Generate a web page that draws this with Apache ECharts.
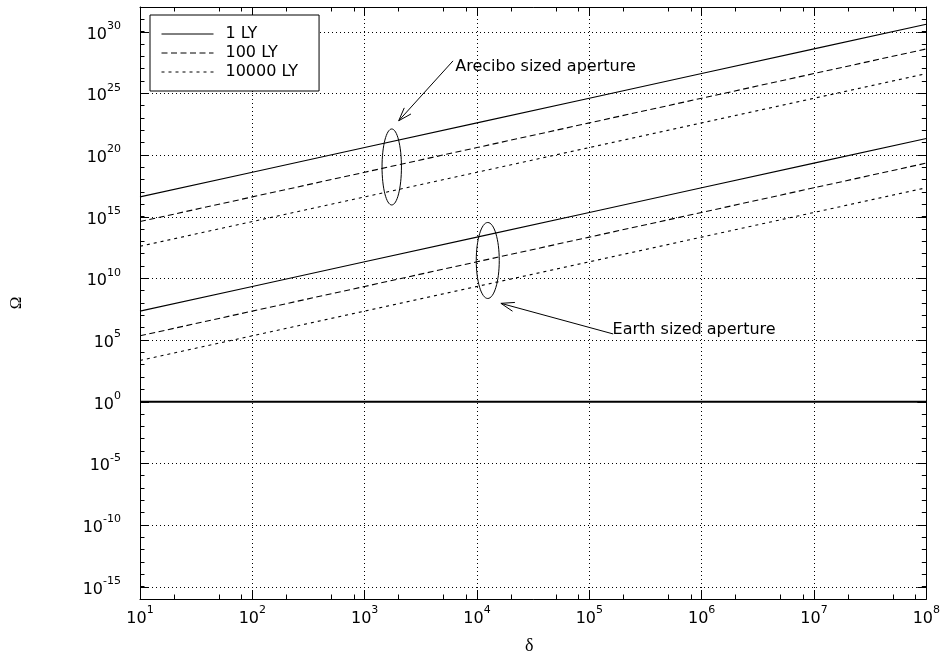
<!DOCTYPE html>
<html><head><meta charset="utf-8">
<script src="https://cdn.jsdelivr.net/npm/echarts@6/dist/echarts.min.js"></script>
<style>html,body{margin:0;padding:0;background:#fff}#c{width:943px;height:660px}</style>
</head><body><div id="c"></div>
<script>
// ---------------- data ----------------
const deltas = [1e1, 1e2, 1e3, 1e4, 1e5, 1e6, 1e7, 1e8];
const arecibo1LY     = [4e16, 4e18, 4e20, 4e22, 4e24, 4e26, 4e28, 4e30];
const arecibo100LY   = [4e14, 4e16, 4e18, 4e20, 4e22, 4e24, 4e26, 4e28];
const arecibo10000LY = [4e12, 4e14, 4e16, 4e18, 4e20, 4e22, 4e24, 4e26];
const earth1LY       = [2.2e7, 2.2e9, 2.2e11, 2.2e13, 2.2e15, 2.2e17, 2.2e19, 2.2e21];
const earth100LY     = [2.2e5, 2.2e7, 2.2e9, 2.2e11, 2.2e13, 2.2e15, 2.2e17, 2.2e19];
const earth10000LY   = [2.2e3, 2.2e5, 2.2e7, 2.2e9, 2.2e11, 2.2e13, 2.2e15, 2.2e17];
const unityLine      = [1, 1, 1, 1, 1, 1, 1, 1];
const legendNames = ['1 LY', '100 LY', '10000 LY'];
const xLabelExponents = [1, 2, 3, 4, 5, 6, 7, 8];
const yLabelExponents = [-15, -10, -5, 0, 5, 10, 15, 20, 25, 30];
const xMinorMultipliers = [2, 5, 8];
const xAxisName = 'δ';
const yAxisName = 'Ω';
const annotations = [
  { text: 'Arecibo sized aperture', textAt: [6410, 1.5e27], tail: [6120, 4.3e27], head: [2010, 6.0e22],
    ellipse: { c: [1742, 1.07e19], rx: 9.7, ry: 38 } },
  { text: 'Earth sized aperture', textAt: [1.61e5, 6.6e5], tail: [1.63e5, 3.1e5], head: [16330, 9.4e7],
    ellipse: { c: [12470, 2.8e11], rx: 11.5, ry: 38 } }
];

// ---------------- chart ----------------
const F = 'DejaVu Sans';
const chart = echarts.init(document.getElementById('c'), null, { renderer: 'canvas' });
const zip = (ys) => deltas.map((x, i) => [x, ys[i]]);
const DASH = [6, 3.5], DOT = [3, 4];

const richLabel = {
  b: { fontSize: 16, fontFamily: F, color: '#000', padding: [6, 0, 0, 0], verticalAlign: 'bottom' },
  s: { fontSize: 11, fontFamily: F, color: '#000', verticalAlign: 'top' }
};
const fmt = (allowed) => (v) => {
  const e = Math.round(Math.log10(v));
  return allowed.includes(e) ? '{b|10}{s|' + e + '}' : '';
};

// tick / grid helper items: [x, y, kind]  kind 0: y major tick + grid, 1: x minor tick
const helperData = [];
yLabelExponents.forEach(e => helperData.push([10, Math.pow(10, e), 0]));
for (let k = 1; k < 8; k++) xMinorMultipliers.forEach(m => helperData.push([m * Math.pow(10, k), 1, 1]));

const lineSeries = (name, ys, type) => ({
  name, type: 'line', data: zip(ys), symbol: 'none', silent: true, z: 3,
  lineStyle: { color: '#000', width: 1.1, type }, itemStyle: { color: '#000' }
});

const xBase = {
  type: 'log', logBase: 10, min: 1e1, max: 1e8, interval: 1,
  axisLine: { show: true, lineStyle: { color: '#000', width: 1 } },
  axisTick: { show: true, inside: true, length: 9, lineStyle: { color: '#000' } },
  minorTick: { show: false }, minorSplitLine: { show: false }
};
const yBase = {
  type: 'log', logBase: 10, min: 1e-16, max: 1e32, interval: 1,
  axisLine: { show: true, lineStyle: { color: '#000', width: 1 } },
  axisTick: { show: true, inside: true, length: 4.5, lineStyle: { color: '#000' } },
  splitLine: { show: false }, minorTick: { show: false }, minorSplitLine: { show: false }
};

chart.setOption({
  animation: false,
  backgroundColor: '#fff',
  grid: { left: 139, right: 16, top: 7, bottom: 59, containLabel: false },
  legend: {
    data: legendNames, orient: 'vertical', left: 150, top: 15,
    itemWidth: 52, itemHeight: 14, itemGap: 3,
    padding: [11, 21, 11, 11],
    itemStyle: { color: 'rgba(0,0,0,0)', borderWidth: 0, opacity: 0 },
    lineStyle: { width: 1 },
    backgroundColor: '#fff', borderColor: '#000', borderWidth: 1, borderRadius: 0,
    textStyle: { fontFamily: F, fontSize: 16, color: '#000', padding: [0, 0, 0, 7] },
    selectedMode: false, z: 10
  },
  xAxis: [
    Object.assign({}, xBase, {
      position: 'bottom', name: xAxisName, nameLocation: 'middle', nameGap: 38,
      nameTextStyle: { fontFamily: 'Liberation Serif', fontSize: 18, color: '#000', padding: [0, 8, 0, 0] },
      axisLabel: { show: true, margin: 6, formatter: fmt(xLabelExponents), rich: richLabel, showMinLabel: true, showMaxLabel: true },
      splitLine: { show: true, lineStyle: { color: '#000', width: 1, type: [1, 3] } }
    }),
    Object.assign({}, xBase, { position: 'top', axisLabel: { show: false }, splitLine: { show: false } })
  ],
  yAxis: [
    Object.assign({}, yBase, {
      position: 'left', name: yAxisName, nameLocation: 'middle', nameGap: 115, nameRotate: 90,
      nameTextStyle: { fontFamily: 'Liberation Serif', fontSize: 17, color: '#000' },
      axisLabel: { show: true, margin: 19, formatter: fmt(yLabelExponents), rich: richLabel, showMinLabel: true, showMaxLabel: true }
    }),
    Object.assign({}, yBase, { position: 'right', axisLabel: { show: false } })
  ],
  series: [
    {
      type: 'custom', silent: true, z: 1, xAxisIndex: 0, yAxisIndex: 0, data: helperData,
      renderItem: (params, api) => {
        const cs = params.coordSys;
        const kind = api.value(2);
        const st = { stroke: '#000', lineWidth: 1 };
        if (kind === 0) {
          const y = Math.round(api.coord([10, api.value(1)])[1]) + 0.5;
          const ch = [
            { type: 'line', shape: { x1: cs.x + cs.width - 9, y1: y, x2: cs.x + cs.width, y2: y }, style: st },
            { type: 'line', shape: { x1: cs.x, y1: y, x2: cs.x + 9, y2: y }, style: st }
          ];
          if (Math.abs(Math.log10(api.value(1))) > 0.5)
            ch.push({ type: 'line', shape: { x1: cs.x, y1: y, x2: cs.x + cs.width, y2: y }, style: { stroke: '#000', lineWidth: 1, lineDash: [1, 3] } });
          return { type: 'group', children: ch };
        }
        const x = Math.round(api.coord([api.value(0), 1])[0]) + 0.5;
        return { type: 'group', children: [
          { type: 'line', shape: { x1: x, y1: cs.y + cs.height, x2: x, y2: cs.y + cs.height - 4.5 }, style: st },
          { type: 'line', shape: { x1: x, y1: cs.y, x2: x, y2: cs.y + 4.5 }, style: st }
        ] };
      }
    },
    lineSeries(legendNames[0], arecibo1LY, 'solid'),
    lineSeries(legendNames[1], arecibo100LY, DASH),
    lineSeries(legendNames[2], arecibo10000LY, DOT),
    lineSeries(legendNames[0], earth1LY, 'solid'),
    lineSeries(legendNames[1], earth100LY, DASH),
    lineSeries(legendNames[2], earth10000LY, DOT),
    { name: 'unity', type: 'line', data: zip(unityLine), symbol: 'none', silent: true, z: 3,
      lineStyle: { color: '#000', width: 2 } }
  ]
});

// ---------------- annotations (placed through the axes) ----------------
const px = (p) => chart.convertToPixel({ xAxisIndex: 0, yAxisIndex: 0 }, p);
const graphics = [];
annotations.forEach(a => {
  const c = px(a.ellipse.c);
  graphics.push({ type: 'ellipse', shape: { cx: c[0], cy: c[1], rx: a.ellipse.rx, ry: a.ellipse.ry },
    style: { fill: 'none', stroke: '#000', lineWidth: 1 }, z: 20 });
  const t = px(a.tail), h = px(a.head);
  graphics.push({ type: 'line', shape: { x1: t[0], y1: t[1], x2: h[0], y2: h[1] },
    style: { stroke: '#000', lineWidth: 1 }, z: 20 });
  const ang = Math.atan2(t[1] - h[1], t[0] - h[0]);
  const L = 14, A = 0.33;
  graphics.push({ type: 'polyline', shape: { points: [
      [h[0] + L * Math.cos(ang + A), h[1] + L * Math.sin(ang + A)], h,
      [h[0] + L * Math.cos(ang - A), h[1] + L * Math.sin(ang - A)] ] },
    style: { stroke: '#000', fill: 'none', lineWidth: 1 }, z: 20 });
  const tp = px(a.textAt);
  graphics.push({ type: 'text', x: tp[0], y: tp[1], z: 21,
    style: { text: a.text, fontFamily: F, fontSize: 16, fill: '#000', align: 'left', verticalAlign: 'middle' } });
});
chart.setOption({ graphic: graphics });
</script>
</body></html>
